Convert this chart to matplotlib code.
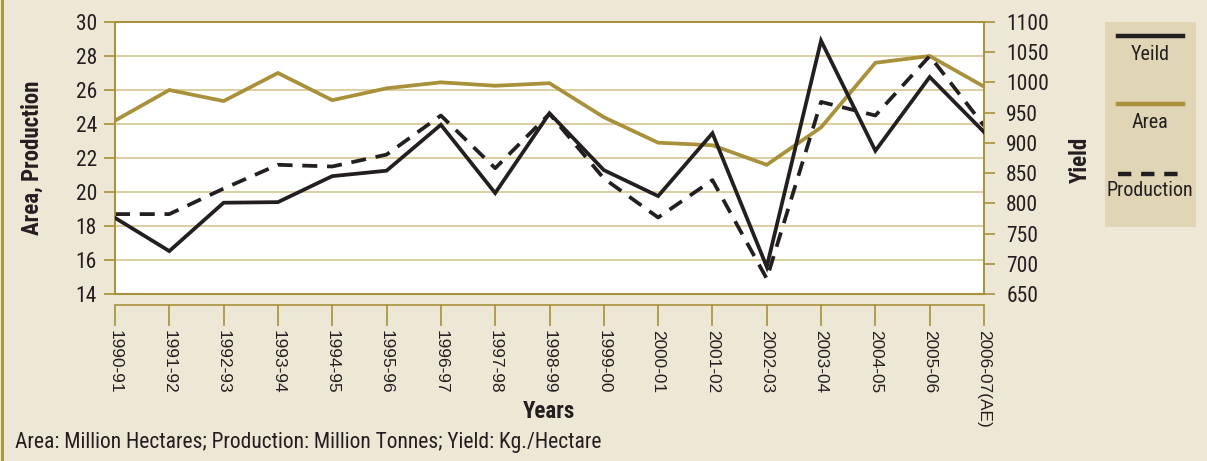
import matplotlib
matplotlib.use("Agg")
import matplotlib.pyplot as plt
from matplotlib.lines import Line2D
from matplotlib.patches import Rectangle

years = ["1990-91", "1991-92", "1992-93", "1993-94", "1994-95", "1995-96", "1996-97",
         "1997-98", "1998-99", "1999-00", "2000-01", "2001-02", "2002-03", "2003-04",
         "2004-05", "2005-06", "2006-07(AE)"]
area = [24.2, 26.0, 25.35, 27.0, 25.4, 26.1, 26.45, 26.25, 26.4, 24.4, 22.9, 22.75,
        21.6, 23.8, 27.6, 28.0, 26.2]
production = [18.7, 18.7, 20.2, 21.6, 21.5, 22.2, 24.5, 21.4, 24.6, 20.8, 18.5, 20.7,
              14.9, 25.3, 24.5, 28.0, 23.9]
yield_ = [776, 721, 801, 802, 845, 854, 930, 817, 949, 855, 812, 916, 695, 1069, 887,
          1009, 918]
left_ticks = list(range(14, 31, 2))
right_ticks = list(range(650, 1101, 50))

BG = "#ede7d6"
GOLD = "#a8913a"
GRID = "#d8c690"
BLACK = "#231f20"
LEG_BG = "#e0d5b5"
FONT = ["Roboto Condensed", "Archivo Narrow", "Liberation Sans", "DejaVu Sans"]
plt.rcParams["font.family"] = FONT

W, H = 1207, 461
fig = plt.figure(figsize=(W / 100, H / 100), dpi=100, facecolor=BG)
ax = fig.add_axes([115 / W, 1 - 294 / H, (984 - 115) / W, (294 - 22) / H])
ax.set_facecolor("white")
x = list(range(len(years)))

ax.set_xlim(0, len(years) - 1)
ax.set_ylim(14, 30)
ax.set_yticks(left_ticks)
ax.yaxis.grid(True, color=GRID, lw=1.2)
ax.set_axisbelow(True)

ax.plot(x, area, color=GOLD, lw=2.7, solid_joinstyle="miter", zorder=3)
ax.plot(x, production, color=BLACK, lw=2.7, dashes=(4, 2.6), zorder=4)

ax2 = ax.twinx()
ax2.set_ylim(650, 1100)
ax2.set_yticks(right_ticks)
ax2.plot(x, yield_, color=BLACK, lw=2.7, solid_joinstyle="miter", zorder=5)

for a in (ax, ax2):
    for s in a.spines.values():
        s.set_color(GOLD)
        s.set_linewidth(1.2)
ax.spines["bottom"].set_position(("outward", 8))
ax2.spines["bottom"].set_visible(False)
ax.axhline(14, color=GOLD, lw=1.5, clip_on=False, zorder=6)

ax.set_xticks(x)
ax.set_xticklabels(years, rotation=-90, fontsize=12.4, family=["Liberation Sans", "DejaVu Sans"],
                   color=BLACK)
ax.tick_params(axis="x", length=15, width=1.2, color=GOLD, pad=3)
ax.tick_params(axis="y", length=8, width=1.2, color=GOLD, labelsize=15.5, labelcolor=BLACK, pad=5)
ax2.tick_params(axis="y", length=8, width=1.2, color=GOLD, labelsize=15.5, labelcolor=BLACK, pad=8)

fig.text(32 / W, 1 - 158 / H, "Area, Production", rotation=90, ha="center", va="center",
         fontsize=16.5, fontweight="bold", color=BLACK)
fig.text(1080 / W, 1 - 160 / H, "Yield", rotation=90, ha="center", va="center",
         fontsize=16.5, fontweight="bold", color=BLACK)
fig.text(549 / W, 1 - 411 / H, "Years", ha="center", va="center",
         fontsize=16.5, fontweight="bold", color=BLACK)
fig.text(15 / W, 1 - 442 / H, "Area: Million Hectares; Production: Million Tonnes; Yield: Kg./Hectare",
         ha="left", va="center", fontsize=15.5, color=BLACK)

# left border line
fig.add_artist(Line2D([2 / W, 2 / W], [0, 1], color=GOLD, lw=2, transform=fig.transFigure))

# legend
fig.add_artist(Rectangle((1105 / W, 1 - 227 / H), 91 / W, 205 / H, facecolor=LEG_BG,
                         edgecolor="none", transform=fig.transFigure))
items = [("Yeild", BLACK, None, 36, 55), ("Area", GOLD, None, 104, 123),
         ("Production", BLACK, (3, 2.2), 174, 191)]
for label, col, dash, ly, ty in items:
    ln = Line2D([1118 / W, 1183 / W], [1 - ly / H, 1 - ly / H], color=col, lw=3.2,
                transform=fig.transFigure)
    if dash:
        ln.set_dashes(dash)
    fig.add_artist(ln)
    fig.text(1150 / W, 1 - ty / H, label, ha="center", va="center", fontsize=14.5, color=BLACK)

fig.savefig("out.png", dpi=100, facecolor=BG)
